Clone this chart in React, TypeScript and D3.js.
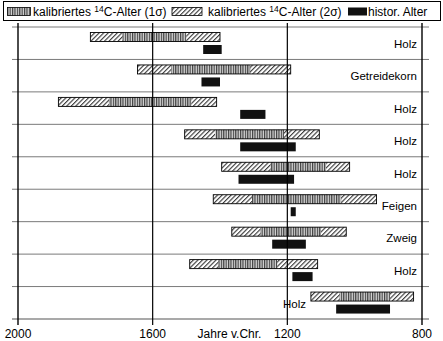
import React from "react";
import * as d3 from "d3";

const labels = ["Holz", "Getreidekorn", "Holz", "Holz", "Holz", "Feigen", "Zweig", "Holz", "Holz"];
const sigma2Start = [1785, 1645, 1880, 1505, 1395, 1420, 1365, 1490, 1130];
const sigma2End = [1400, 1190, 1410, 1105, 1015, 935, 1025, 1110, 825];
const sigma1Start = [1690, 1545, 1730, 1415, 1250, 1305, 1280, 1405, 1045];
const sigma1End = [1500, 1310, 1485, 1210, 1085, 1040, 1100, 1230, 895];
const histStart = [1450, 1455, 1340, 1340, 1345, 1190, 1245, 1185, 1055];
const histEnd = [1395, 1400, 1265, 1175, 1180, 1175, 1145, 1125, 895];
const tickValues = [2000, 1600, 1200, 800];
const axisTitle = "Jahre v.Chr.";
const legendLabels = ["kalibriertes ", "kalibriertes ", "histor. Alter"];

const W = 443;
const H = 341;
const FONT = "'Liberation Sans', Arial, Helvetica, sans-serif";

export default function App() {
  const x = d3.scaleLinear().domain([2000, 800]).range([18, 422]);
  const rows = d3.range(labels.length);
  const y = d3.scaleBand<number>().domain(rows).range([27, 319]).paddingInner(0).paddingOuter(0);
  const bw = y.bandwidth();
  const top = 27;
  const bottom = 319;

  return (
    <div style={{ position: "fixed", left: 0, top: 0 }}>
      <svg width={W} height={H} style={{ display: "block", background: "#fff" }}>
        <defs>
          <pattern id="hatch" width={3.2} height={3.2} patternUnits="userSpaceOnUse" patternTransform="rotate(45)">
            <rect width={3.2} height={3.2} fill="#fff" />
            <line x1={0.6} y1={0} x2={0.6} y2={3.2} stroke="#222" strokeWidth={1.0} />
          </pattern>
          <pattern id="vert" width={2.4} height={4} patternUnits="userSpaceOnUse">
            <rect width={2.4} height={4} fill="#d8d8d8" />
            <line x1={0.6} y1={0} x2={0.6} y2={4} stroke="#333" strokeWidth={1.1} />
          </pattern>
        </defs>

        {/* legend */}
        <rect x={3.5} y={1.5} width={437} height={19} fill="#fff" stroke="#000" strokeWidth={1} />
        <rect x={7.5} y={7.5} width={23} height={8} fill="url(#vert)" stroke="#000" strokeWidth={0.8} />
        <text x={33} y={16} fontFamily={FONT} fontSize={12} fill="#000">
          {legendLabels[0]}
          <tspan fontSize={8.5} dy={-4}>14</tspan>
          <tspan dy={4}>C-Alter (1σ)</tspan>
        </text>
        <rect x={172} y={7.5} width={30} height={8} fill="url(#hatch)" stroke="#000" strokeWidth={0.8} />
        <text x={208} y={16} fontFamily={FONT} fontSize={12} fill="#000">
          {legendLabels[1]}
          <tspan fontSize={8.5} dy={-4}>14</tspan>
          <tspan dy={4}>C-Alter (2σ)</tspan>
        </text>
        <rect x={348} y={7.5} width={19} height={8} fill="#111" />
        <text x={368} y={16} fontFamily={FONT} fontSize={12} fill="#000">
          {legendLabels[2]}
        </text>

        {/* row separators */}
        {rows.map((i) => (
          <line key={"h" + i} x1={12} x2={429} y1={y(i)!} y2={y(i)!} stroke="#7a7a7a" strokeWidth={1} />
        ))}
        <line x1={12} x2={429} y1={bottom} y2={bottom} stroke="#555" strokeWidth={1.2} />

        {/* bars */}
        {rows.map((i) => {
          const y0 = y(i)!;
          return (
            <g key={"b" + i}>
              <rect
                x={x(sigma2Start[i])}
                y={y0 + 5.5}
                width={x(sigma2End[i]) - x(sigma2Start[i])}
                height={9}
                fill="url(#hatch)"
                stroke="none"
              />
              <rect
                x={x(sigma1Start[i])}
                y={y0 + 5.5}
                width={x(sigma1End[i]) - x(sigma1Start[i])}
                height={9}
                fill="url(#vert)"
                stroke="none"
              />
              <rect
                x={x(sigma2Start[i])}
                y={y0 + 5.5}
                width={x(sigma2End[i]) - x(sigma2Start[i])}
                height={9}
                fill="none"
                stroke="#000"
                strokeWidth={0.9}
              />
              <rect
                x={x(histStart[i])}
                y={y0 + 18}
                width={x(histEnd[i]) - x(histStart[i])}
                height={9}
                fill="#111"
              />
            </g>
          );
        })}

        {/* row labels */}
        {rows.map((i) =>
          i === labels.length - 1 ? (
            <text key={"l" + i} x={283} y={y(i)! + 21.5} fontFamily={FONT} fontSize={11.5} fill="#000">
              {labels[i]}
            </text>
          ) : (
            <text
              key={"l" + i}
              x={417}
              y={y(i)! + bw / 2 + 4.5}
              textAnchor="end"
              fontFamily={FONT}
              fontSize={11.5}
              fill="#000"
            >
              {labels[i]}
            </text>
          )
        )}

        {/* vertical lines */}
        {tickValues.map((t) => (
          <line
            key={"v" + t}
            x1={x(t)}
            x2={x(t)}
            y1={top - 4}
            y2={bottom + 6}
            stroke="#000"
            strokeWidth={t === 2000 || t === 800 ? 1.4 : 1.2}
          />
        ))}

        {/* tick labels */}
        {tickValues.map((t) => (
          <text key={"t" + t} x={x(t)} y={337.5} textAnchor="middle" fontFamily={FONT} fontSize={12} fill="#000">
            {t}
          </text>
        ))}
        <text x={229.5} y={337.5} textAnchor="middle" fontFamily={FONT} fontSize={12} fill="#000">
          {axisTitle}
        </text>
      </svg>
    </div>
  );
}
